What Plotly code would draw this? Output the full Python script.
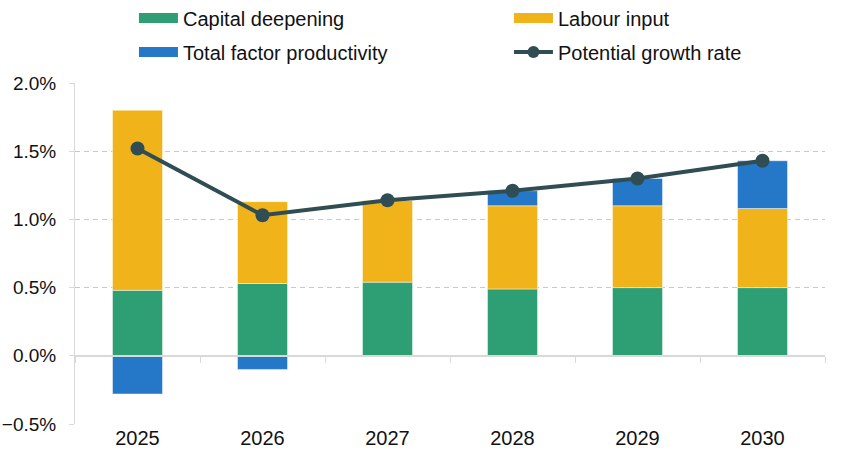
import plotly.graph_objects as go

years = ["2025", "2026", "2027", "2028", "2029", "2030"]
capital_deepening = [0.48, 0.53, 0.54, 0.49, 0.50, 0.50]
labour_input = [1.32, 0.60, 0.60, 0.61, 0.60, 0.58]
tfp = [-0.28, -0.10, 0.00, 0.11, 0.20, 0.35]
potential_growth = [1.52, 1.03, 1.14, 1.21, 1.30, 1.43]

GREEN = "#2e9e74"
YELLOW = "#f0b41a"
BLUE = "#2577c8"
DARK = "#2f4d53"
FONT = "Liberation Sans, Arial, sans-serif"
edge = dict(color="rgba(255,255,255,0.45)", width=1)

fig = go.Figure()
fig.add_trace(go.Bar(x=years, y=capital_deepening, name="Capital deepening",
                     marker=dict(color=GREEN, line=edge), showlegend=False))
fig.add_trace(go.Bar(x=years, y=labour_input, name="Labour input",
                     marker=dict(color=YELLOW, line=edge), showlegend=False))
fig.add_trace(go.Bar(x=years, y=tfp, name="Total factor productivity",
                     marker=dict(color=BLUE, line=edge), showlegend=False))
fig.add_trace(go.Scatter(x=years, y=potential_growth, name="Potential growth rate",
                         mode="lines+markers", line=dict(color=DARK, width=4),
                         marker=dict(color=DARK, size=14), showlegend=False))

# legend entries
def leg(name, color, legend, group, mode="lines"):
    fig.add_trace(go.Scatter(x=[None], y=[None], name=name, mode=mode,
                             line=dict(color=color, width=4 if "markers" in mode else 11),
                             marker=dict(color=color, size=12),
                             legend=legend, legendgroup=group, showlegend=True))

leg("Capital deepening", GREEN, "legend", "a")
leg("Total factor productivity", BLUE, "legend", "b")
leg("Labour input", YELLOW, "legend2", "c")
leg("Potential growth rate", DARK, "legend2", "d", mode="lines+markers")

# axis at zero with category boundary ticks
fig.add_trace(go.Scatter(x=years, y=[None]*len(years), xaxis="x2", showlegend=False,
                         hoverinfo="skip"))

legend_common = dict(font=dict(family=FONT, size=20, color="#111111"),
                     bgcolor="rgba(0,0,0,0)", borderwidth=0, itemwidth=39,
                     tracegroupgap=5, traceorder="grouped",
                     yanchor="top", xanchor="left", orientation="v")

fig.update_layout(
    width=848, height=462,
    margin=dict(l=75, r=23, t=83, b=38, autoexpand=False),
    paper_bgcolor="white", plot_bgcolor="white",
    barmode="relative", bargap=0.6,
    font=dict(family=FONT, size=20, color="#111111"),
    legend=dict(x=0.0786, y=1.2476, **legend_common),
    legend2=dict(x=0.5786, y=1.2476, **legend_common),
    xaxis=dict(type="category", showgrid=False, showline=False, ticks="",
               tickfont=dict(size=20, color="#111111"), zeroline=False,
               automargin=False),
    xaxis2=dict(type="category", overlaying="x", matches="x", anchor="free",
                position=0.2, side="bottom", showline=True, linecolor="#d9d9d9",
                linewidth=2, ticks="outside", tickson="boundaries", ticklen=6,
                tickcolor="#d9d9d9", tickwidth=1, showticklabels=False, showgrid=False),
    yaxis=dict(range=[-0.5, 2.0], dtick=0.5, tick0=0, tickformat=".1f", ticksuffix="%",
               showgrid=True, gridcolor="#c9c9c9", griddash="5px,4px", gridwidth=1,
               zeroline=False, automargin=False,
               showline=True, linecolor="#d9d9d9", linewidth=1,
               ticks="outside", ticklen=5, tickcolor="#d9d9d9",
               ticklabelstandoff=9,
               tickfont=dict(size=19, color="#111111")),
)

fig.write_html("out.html")
